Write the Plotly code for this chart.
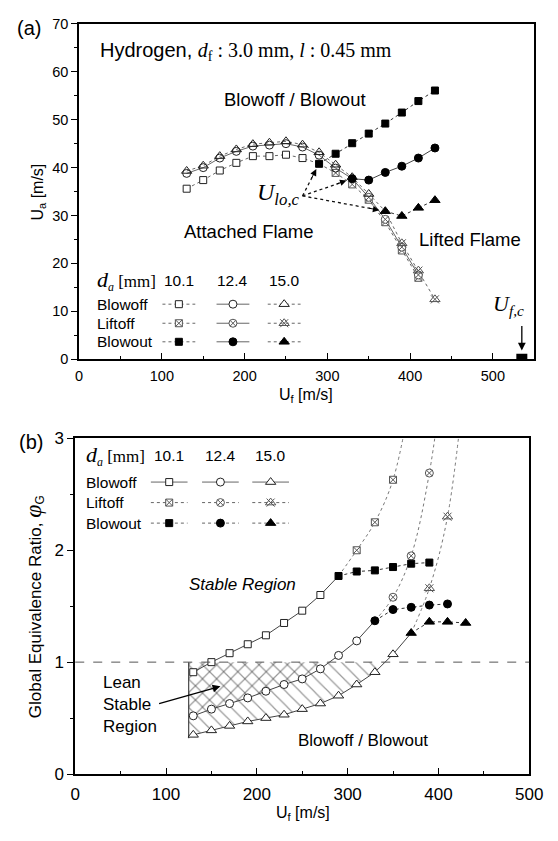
import numpy as np
import plotly.graph_objects as go

# ---------------- data: panel (a)  Ua vs Uf ----------------
a_bo10_x = [130, 150, 170, 190, 210, 230, 250, 270]
a_bo10_y = [35.6, 37.4, 39.4, 41.0, 42.4, 42.4, 42.7, 42.0]
a_bo12_x = [130, 150, 170, 190, 210, 230, 250, 270, 290, 310]
a_bo12_y = [38.8, 40.0, 42.0, 43.4, 44.5, 44.7, 45.0, 44.3, 42.6, 39.9]
a_bo15_x = [130, 150, 170, 190, 210, 230, 250, 270, 290, 310, 330, 350]
a_bo15_y = [39.3, 40.4, 42.4, 43.8, 44.9, 45.2, 45.5, 44.8, 43.2, 40.6, 38.0, 34.5]
a_lo10_x = [310, 330, 350, 370, 390, 410]
a_lo10_y = [38.9, 36.5, 33.3, 28.6, 22.7, 17.0]
a_lo12_x = [350, 370, 390, 410]
a_lo12_y = [33.8, 29.2, 23.4, 17.6]
a_lo15_x = [390, 410, 430]
a_lo15_y = [24.2, 18.5, 12.5]
a_bt10_x = [290, 310, 330, 350, 370, 390, 410, 430]
a_bt10_y = [40.8, 42.9, 45.1, 47.1, 49.2, 51.5, 53.9, 56.1]
a_bt12_x = [330, 350, 370, 390, 410, 430]
a_bt12_y = [37.7, 37.4, 39.0, 40.3, 42.0, 44.1]
a_bt15_x = [370, 390, 410, 430]
a_bt15_y = [30.9, 29.9, 31.6, 33.2]
ufc_x = [535]
ufc_y = [0]

# ---------------- data: panel (b)  phi_G vs Uf ----------------
b_bo10_x = [130, 150, 170, 190, 210, 230, 250, 270]
b_bo10_y = [0.91, 1.00, 1.08, 1.16, 1.24, 1.35, 1.46, 1.60]
b_bo12_x = [130, 150, 170, 190, 210, 230, 250, 270, 290, 310]
b_bo12_y = [0.52, 0.58, 0.63, 0.68, 0.74, 0.80, 0.85, 0.94, 1.06, 1.19]
b_bo15_x = [130, 150, 170, 190, 210, 230, 250, 270, 290, 310, 330, 350]
b_bo15_y = [0.35, 0.39, 0.43, 0.47, 0.50, 0.53, 0.58, 0.63, 0.70, 0.80, 0.91, 1.07]
b_lo10_x = [310, 330, 350, 370]
b_lo10_y = [2.00, 2.25, 2.63, 3.40]
b_lo12_x = [350, 370, 390, 410]
b_lo12_y = [1.58, 1.95, 2.69, 3.90]
b_lo15_x = [390, 410, 430]
b_lo15_y = [1.66, 2.30, 3.60]
b_bt10_x = [290, 310, 330, 350, 370, 390]
b_bt10_y = [1.77, 1.81, 1.82, 1.85, 1.88, 1.89]
b_bt12_x = [330, 350, 370, 390, 410]
b_bt12_y = [1.37, 1.47, 1.49, 1.51, 1.52]
b_bt15_x = [370, 390, 410, 430]
b_bt15_y = [1.26, 1.36, 1.36, 1.35]
lean_left = 125
phi_stoich = 1.0

diameters = ["10.1", "12.4", "15.0"]
rows = ["Blowoff", "Liftoff", "Blowout"]

# ---------------- style ----------------
SANS = "Liberation Sans, Arial, sans-serif"
SERIF = "Liberation Serif, Times New Roman, serif"
MK = "#222222"
LO = "#555555"
LN = "#666666"
W, H = 558, 841

fig = go.Figure()


def line(x, y, ax, dash, color=LN, width=1, shape="linear"):
    fig.add_trace(go.Scatter(x=x, y=y, mode="lines", xaxis=ax[0], yaxis=ax[1],
                             line=dict(color=color, width=width, dash=dash, shape=shape),
                             hoverinfo="skip"))


def mark(x, y, ax, symbol, size, color=MK, fill=None, lw=1):
    fig.add_trace(go.Scatter(x=x, y=y, mode="markers", xaxis=ax[0], yaxis=ax[1],
                             marker=dict(symbol=symbol, size=size,
                                         color=fill if fill else color,
                                         line=dict(color=color, width=lw)),
                             hoverinfo="skip"))


A = ("x", "y")
B = ("x2", "y2")
P = ("x3", "y3")

# ---------------- hatched lean stable region (panel b) ----------------
def region(xs, ys):
    xs = np.array(xs, float)
    ys = np.array(ys, float)
    k = np.argmax(ys >= phi_stoich)
    xc = np.interp(phi_stoich, ys[k - 1:k + 1], xs[k - 1:k + 1])
    px = [lean_left] + list(xs[:k]) + [xc, lean_left, lean_left]
    py = [ys[0] - 0.03] + list(ys[:k]) + [phi_stoich, phi_stoich, ys[0] - 0.03]
    return px, py


for (xs, ys, pat) in [(b_bo15_x, b_bo15_y, "\\"), (b_bo12_x, b_bo12_y, "/")]:
    px, py = region(xs, ys)
    fig.add_trace(go.Scatter(x=px, y=py, mode="lines", xaxis="x2", yaxis="y2",
                             fill="toself", fillcolor="rgba(0,0,0,0)",
                             fillpattern=dict(shape=pat, fgcolor="#333333",
                                              bgcolor="rgba(255,255,255,0)",
                                              size=10, solidity=0.12, fillmode="overlay"),
                             line=dict(width=0), hoverinfo="skip"))
line([lean_left, lean_left], [b_bo15_y[0] - 0.03, phi_stoich], B, "solid", color="#222", width=1)

# ---------------- panel (a) lines ----------------
line(a_bo10_x + a_bt10_x[:1], a_bo10_y + a_bt10_y[:1], A, "dot")
line(a_bt10_x[:1] + a_lo10_x, a_bt10_y[:1] + a_lo10_y, A, "dot")
line(a_bt10_x, a_bt10_y, A, "dot", color="#333")
line(a_bo12_x + a_bt12_x[:1] + a_lo12_x, a_bo12_y + a_bt12_y[:1] + a_lo12_y, A, "solid")
line(a_bt12_x, a_bt12_y, A, "solid", color="#444")
line(a_bo15_x + a_bt15_x[:1] + a_lo15_x, a_bo15_y + a_bt15_y[:1] + a_lo15_y, A, "dot")
line(a_bt15_x, a_bt15_y, A, "dot", color="#333")

# ---------------- panel (b) lines ----------------
line(b_bo10_x + b_bt10_x[:1], b_bo10_y + b_bt10_y[:1], B, "solid", color="#444")
line(b_bo12_x + b_bt12_x[:1], b_bo12_y + b_bt12_y[:1], B, "solid", color="#444")
line(b_bo15_x + b_bt15_x[:1], b_bo15_y + b_bt15_y[:1], B, "solid", color="#444")
line(b_bt10_x, b_bt10_y, B, "dot", color="#333")
line(b_bt12_x, b_bt12_y, B, "dot", color="#333")
line(b_bt15_x, b_bt15_y, B, "dot", color="#333")
line(b_bt10_x[:1] + b_lo10_x, b_bt10_y[:1] + b_lo10_y, B, "dot", color="#777", shape="spline")
line(b_bt12_x[:1] + b_lo12_x, b_bt12_y[:1] + b_lo12_y, B, "dot", color="#777", shape="spline")
line(b_bt15_x[:1] + b_lo15_x, b_bt15_y[:1] + b_lo15_y, B, "dot", color="#777", shape="spline")

# ---------------- markers ----------------
for ax, d, opaque in [
        (A, dict(bo=[(a_bo10_x, a_bo10_y), (a_bo12_x, a_bo12_y), (a_bo15_x, a_bo15_y)],
                 lo=[(a_lo10_x, a_lo10_y), (a_lo12_x, a_lo12_y), (a_lo15_x, a_lo15_y)],
                 bt=[(a_bt10_x, a_bt10_y), (a_bt12_x, a_bt12_y), (a_bt15_x, a_bt15_y)]), False),
        (B, dict(bo=[(b_bo10_x, b_bo10_y), (b_bo12_x, b_bo12_y), (b_bo15_x, b_bo15_y)],
                 lo=[(b_lo10_x, b_lo10_y), (b_lo12_x, b_lo12_y), (b_lo15_x, b_lo15_y)],
                 bt=[(b_bt10_x, b_bt10_y), (b_bt12_x, b_bt12_y), (b_bt15_x, b_bt15_y)]), True)]:
    (x1, y1), (x2, y2), (x3, y3) = d["lo"]
    mark(x1, y1, ax, "square-x", 7, color=LO, fill="white")
    mark(x2, y2, ax, "circle-x", 8, color=LO, fill="white")
    mark(x3, y3, ax, "triangle-up-open", 9, color=LO)
    mark(x3, y3, ax, "x-thin-open", 8, color=LO)
    (x1, y1), (x2, y2), (x3, y3) = d["bo"]
    mark(x1, y1, ax, "square", 7, fill="white")
    if opaque:
        mark(x2, y2, ax, "circle", 8, fill="white")
        mark(x3, y3, ax, "triangle-up", 9, fill="white")
    else:
        mark(x2, y2, ax, "circle-open", 8)
        mark(x3, y3, ax, "triangle-up-open", 9)
    (x1, y1), (x2, y2), (x3, y3) = d["bt"]
    mark(x1, y1, ax, "square", 7, color="black")
    mark(x2, y2, ax, "circle", 8, color="black")
    mark(x3, y3, ax, "triangle-up", 9, color="black")

fig.add_trace(go.Scatter(x=ufc_x, y=ufc_y, mode="markers", xaxis="x", yaxis="y",
                         marker=dict(symbol="square", size=11, color="black"),
                         cliponaxis=True, hoverinfo="skip"))

# ---------------- hand-drawn legends (pixel overlay axis) ----------------
def legend(cols, rows_y, half, dashes):
    for j, cx in enumerate(cols):
        for i, ry in enumerate(rows_y):
            line([cx - half, cx + half], [ry, ry], P, dashes[i][j], color=LN, width=1)
    for j, cx in enumerate(cols):
        r0, r1, r2 = rows_y
        sym_bo = ["square", "circle", "triangle-up"][j]
        size = [7, 8, 9][j]
        mark([cx], [r0], P, sym_bo, size, color=MK, fill="white")
        if j < 2:
            mark([cx], [r1], P, ["square-x", "circle-x"][j], size, color=LO, fill="white")
        else:
            mark([cx], [r1], P, "triangle-up-open", 9, color=LO)
            mark([cx], [r1], P, "x-thin-open", 8, color=LO)
        mark([cx], [r2], P, sym_bo, size, color="black")


cols_a = [180, 236, 289]
rows_a = [302, 321.5, 340.5]
cols_b = [170, 223, 275]
rows_b = [484, 505, 526]
dash_a = [["dot", "solid", "dot"]] * 3
dash_b = [["solid"] * 3, ["dot"] * 3, ["dot"] * 3]
legend(cols_a, rows_a, 17, dash_a)
legend(cols_b, rows_b, 19, dash_b)

# ---------------- axes ----------------
common = dict(showline=True, linewidth=1.5, linecolor="black", mirror=True,
              showgrid=False, zeroline=False, tickcolor="black", tickwidth=1.2)
fig.update_layout(
    width=W, height=H, autosize=False,
    margin=dict(l=0, r=0, t=0, b=0),
    paper_bgcolor="white", plot_bgcolor="rgba(0,0,0,0)",
    showlegend=False,
    font=dict(family=SANS, color="black"),
    xaxis=dict(domain=[76.7 / W, 547.9 / W], range=[0, 550], anchor="y",
               tick0=0, dtick=100, ticks="inside", ticklen=6,
               minor=dict(dtick=50, ticks="inside", ticklen=3.5, tickwidth=1),
               tickfont=dict(size=14.5), ticklabelstandoff=3, **common),
    yaxis=dict(domain=[1 - 358.3 / H, 1 - 15.3 / H], range=[0, 70], anchor="x",
               tick0=0, dtick=10, ticks="outside", ticklen=6,
               minor=dict(dtick=5, ticks="outside", ticklen=3.5, tickwidth=1),
               tickfont=dict(size=14.5), **common),
    xaxis2=dict(domain=[72.7 / W, 542.7 / W], range=[0, 500], anchor="y2",
                tick0=0, dtick=100, ticks="inside", ticklen=6,
                minor=dict(dtick=50, ticks="inside", ticklen=3.5, tickwidth=1),
                tickfont=dict(size=17), ticklabelstandoff=4, **common),
    yaxis2=dict(domain=[1 - 782.7 / H, 1 - 439.3 / H], range=[0, 3], anchor="x2",
                tick0=0, dtick=1, ticks="outside", ticklen=6,
                minor=dict(dtick=0.5, ticks="outside", ticklen=3.5, tickwidth=1),
                tickfont=dict(size=17), **common),
    xaxis3=dict(domain=[0, 1], range=[0, W], anchor="y3", visible=False, fixedrange=True),
    yaxis3=dict(domain=[0, 1], range=[H, 0], anchor="x3", visible=False, fixedrange=True),
)

fig.add_shape(type="line", xref="x2 domain", yref="y2", x0=0, x1=1,
              y0=phi_stoich, y1=phi_stoich, line=dict(color="#555", width=1, dash="dash"))

# ---------------- annotations ----------------
def txt(x, y, text, size, family=SANS, xanchor="center", angle=0, align="center"):
    fig.add_annotation(x=x, y=y, xref="x3", yref="y3", text=text, showarrow=False,
                       font=dict(size=size, family=family, color="black"),
                       xanchor=xanchor, yanchor="middle", textangle=angle, align=align)

txt(25, 19, "(a)", 20)
txt(27, 443, "(b)", 20)
txt(96, 43, '<span style="font-family:Liberation Sans">Hydrogen, </span><i>d</i><sub>f</sub> : 3.0 mm, <i>l</i> : 0.45 mm',
    20, family=SERIF, xanchor="left")
txt(300, 93, "Blowoff / Blowout", 18.5)
txt(253, 228, "Attached Flame", 18.5)
txt(481, 236, "Lifted Flame", 18.5)
txt(283, 189, "<i>U</i><sub><i>lo,c</i></sub>", 24, family=SERIF)
txt(521, 303, "<i>U</i><sub><i>f,c</i></sub>", 22, family=SERIF)
txt(35, 187, "U<sub>a</sub> [m/s]", 16, angle=-90)
txt(312, 395, "U<sub>f</sub> [m/s]", 16)
txt(30, 611, 'Global Equivalence Ratio, <span style="font-family:Liberation Serif;font-size:24px"><i>φ</i></span><sub>G</sub>',
    17, angle=-90)
txt(308, 823, "U<sub>f</sub> [m/s]", 16)
txt(246, 589, "<i>Stable Region</i>", 17)
txt(371, 748, "Blowoff / Blowout", 17)
txt(99, 712, "Lean<br>Stable<br>Region", 17, xanchor="left", align="left")

# legend headers and labels
txt(93, 278, '<i><span style="font-size:22px">d</span></i><sub><i>a</i></sub> [mm]', 17, family=SERIF, xanchor="left")
txt(82, 457, '<i><span style="font-size:22px">d</span></i><sub><i>a</i></sub> [mm]', 17, family=SERIF, xanchor="left")
for cx, lab in zip(cols_a, diameters):
    txt(cx, 278, lab, 15.5)
for cx, lab in zip(cols_b, diameters):
    txt(cx, 457, lab, 15.5)
for ry, lab in zip(rows_a, rows):
    txt(93, ry, lab, 15.5, xanchor="left")
for ry, lab in zip(rows_b, rows):
    txt(82, ry, lab, 15.5, xanchor="left")

# U_lo,c dotted arrows (panel a)
sx, sy = 0.8565, 4.9  # px per unit on panel (a)
tail = (270.0, 34.1)
for hx, hy in [(a_bt10_x[0], a_bt10_y[0]), (a_bt12_x[0], a_bt12_y[0]), (a_bt15_x[0], a_bt15_y[0])]:
    dxp = (hx - tail[0]) * sx
    dyp = -(hy - tail[1]) * sy
    L = np.hypot(dxp, dyp)
    ux, uy = dxp / L, dyp / L
    frac = (L - 9) / L
    line([tail[0], tail[0] + (hx - tail[0]) * frac], [tail[1], tail[1] + (hy - tail[1]) * frac],
         A, "dot", color="#111", width=1.3)
    fig.add_annotation(x=hx, y=hy, xref="x", yref="y", text="", showarrow=True,
                       ax=-ux * 18, ay=-uy * 18, arrowhead=2, arrowsize=1.3, arrowwidth=1,
                       arrowcolor="black", standoff=6)

# U_f,c arrow
fig.add_annotation(x=ufc_x[0], y=1.8, xref="x", yref="y", text="", showarrow=True,
                   ax=0, ay=-26, arrowhead=2, arrowsize=1.2, arrowwidth=1.3, arrowcolor="black")

# Lean stable region arrow
fig.add_annotation(x=223, y=693, xref="x3", yref="y3", axref="x3", ayref="y3", ax=158, ay=711,
                   text="", showarrow=True, arrowhead=2, arrowsize=1.2, arrowwidth=1.3,
                   arrowcolor="black")

fig.write_html("out.html")
